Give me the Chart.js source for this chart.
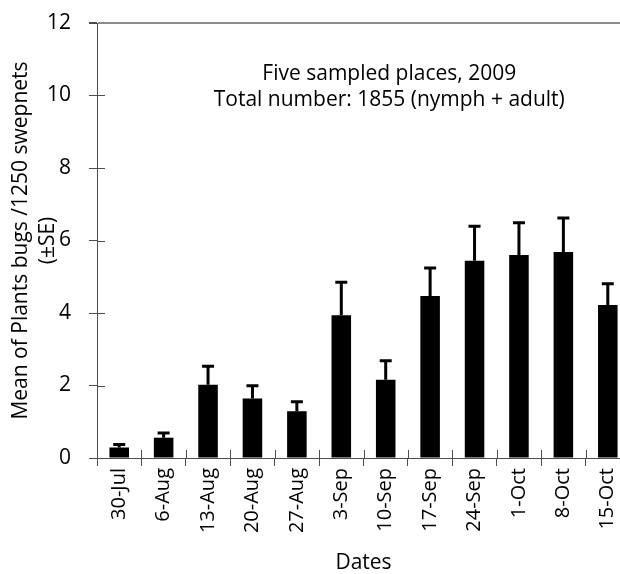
<!DOCTYPE html>
<html>
<head>
<meta charset="utf-8">
<script src="https://cdn.jsdelivr.net/npm/chart.js@4/dist/chart.umd.min.js"></script>
<style>
html,body{margin:0;padding:0;background:#fff;overflow:hidden;}
#wrap{width:640px;height:574px;position:relative;}
</style>
</head>
<body>
<div id="wrap"><canvas id="c" width="640" height="574"></canvas></div>
<script>
const categories = ["30-Jul","6-Aug","13-Aug","20-Aug","27-Aug","3-Sep","10-Sep","17-Sep","24-Sep","1-Oct","8-Oct","15-Oct"];
const means = [0.29,0.56,2.02,1.64,1.29,3.94,2.16,4.47,5.44,5.60,5.68,4.22];
const upperSE = [0.37,0.69,2.53,1.99,1.55,4.85,2.68,5.24,6.39,6.49,6.62,4.81];
const yTicks = [0,2,4,6,8,10,12];
const noteLines = ["Five sampled places, 2009","Total number: 1855 (nymph + adult)"];
const yTitle = ["Mean of Plants bugs /1250 swepnets","(\u00B1SE)"];
const xTitle = "Dates";

const FONT = "'Open Sans', sans-serif";
const AXIS = '#4d4d4d';

const extras = {
  id:'extras',
  afterDatasetsDraw(chart){
    const ctx = chart.ctx, xs = chart.scales.x, ys = chart.scales.y;
    const meta = chart.getDatasetMeta(0);
    ctx.save();
    ctx.strokeStyle = '#000';
    ctx.lineWidth = 3;
    meta.data.forEach((bar,i)=>{
      const x = bar.x;
      const yTop = ys.getPixelForValue(upperSE[i]);
      const yMean = ys.getPixelForValue(means[i]);
      ctx.beginPath();
      ctx.moveTo(x, yMean);
      ctx.lineTo(x, yTop);
      ctx.moveTo(x-6, yTop);
      ctx.lineTo(x+6, yTop);
      ctx.stroke();
    });
    // inner tick halves (cross ticks)
    ctx.strokeStyle = AXIS;
    ctx.lineWidth = 1;
    const ca = chart.chartArea;
    ys.ticks.forEach(t=>{
      if (t.value === 12) return;
      const y = Math.round(ys.getPixelForValue(t.value))+0.5;
      ctx.beginPath(); ctx.moveTo(ca.left, y); ctx.lineTo(ca.left+8, y); ctx.stroke();
    });
    for (let i=0;i<=categories.length;i++){
      const x = Math.round(xs.left + i*(xs.width/categories.length))+0.5;
      ctx.beginPath(); ctx.moveTo(x, ca.bottom); ctx.lineTo(x, ca.bottom-8); ctx.stroke();
    }
    // note text
    ctx.fillStyle = '#000';
    ctx.font = "21px " + FONT;
    ctx.textAlign = 'center';
    ctx.textBaseline = 'middle';
    const cx = xs.getPixelForValue(6.08);
    ctx.fillText(noteLines[0], cx, ys.getPixelForValue(10.6));
    ctx.fillText(noteLines[1], cx, ys.getPixelForValue(9.88));
    ctx.restore();
  }
};

new Chart(document.getElementById('c'), {
  type:'bar',
  data:{
    labels: categories,
    datasets:[{
      data: means,
      backgroundColor:'#000',
      borderColor:'#000',
      borderWidth:0,
      barPercentage:0.44,
      categoryPercentage:1.0
    }]
  },
  options:{
    responsive:false,
    animation:false,
    devicePixelRatio:1,
    layout:{padding:{top:23,right:10,left:0,bottom:0}},
    plugins:{legend:{display:false},tooltip:{enabled:false}},
    scales:{
      x:{
        offset:true,
        afterFit(s){ s.height = 116; s.paddingLeft = 0; s.paddingRight = 0; },
        grid:{offset:true, drawOnChartArea:false, tickLength:8, color:AXIS, tickColor:AXIS},
        border:{color:AXIS, width:1},
        ticks:{minRotation:90, maxRotation:90, color:'#000', font:{family:FONT, size:20}, padding:2, autoSkip:false},
        title:{display:true, text:xTitle, color:'#000', font:{family:FONT, size:21, lineHeight:1.0}, padding:{top:0,bottom:0}}
      },
      y:{
        min:0, max:12,
        afterFit(s){ s.width = 97; s.paddingTop = 0; s.paddingBottom = 0; },
        afterBuildTicks(s){ s.ticks = yTicks.map(v=>({value:v})); },
        grid:{drawOnChartArea:true, tickLength:8,
          color:(c)=> (c.tick && c.tick.value===12) ? '#8c8c8c' : 'rgba(0,0,0,0)',
          lineWidth:(c)=> (c.tick && c.tick.value===12) ? 2 : 1,
          tickColor:AXIS},
        border:{color:AXIS, width:1},
        ticks:{color:'#000', font:{family:FONT, size:21}, padding:18},
        title:{display:true, text:yTitle, color:'#000', font:{family:FONT, size:21, lineHeight:1.29}, padding:{top:7,bottom:0}}
      }
    }
  },
  plugins:[extras]
});
</script>
</body>
</html>
